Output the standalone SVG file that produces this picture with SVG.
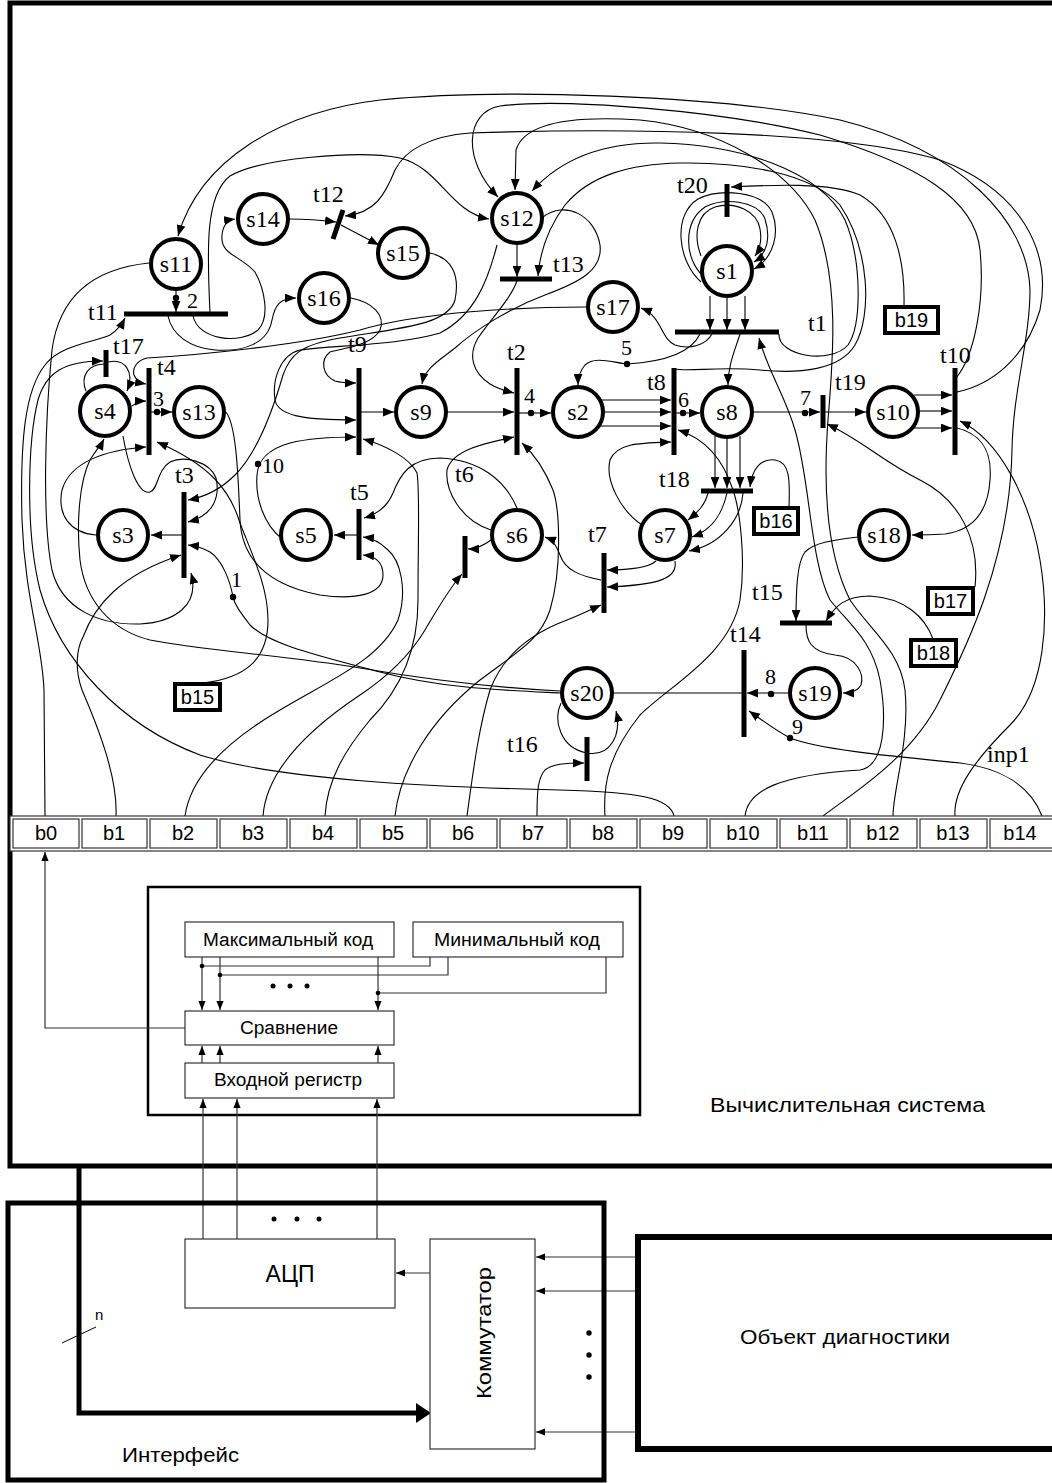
<svg xmlns="http://www.w3.org/2000/svg" width="1052" height="1483" viewBox="0 0 1052 1483">
<style>
.c{fill:none;stroke:#000;stroke-width:1.1}
.pl circle{fill:#fff;stroke:#000;stroke-width:4}
.pl text,.tl{font-family:"Liberation Serif",serif;font-size:24px;fill:#000}
.pl text{text-anchor:middle}
.dg{font-family:"Liberation Serif",serif;font-size:22px}
.tr line{stroke:#000;stroke-width:5}
.bx rect{fill:#fff;stroke:#000;stroke-width:4}
.bx text,.rg text{font-family:"Liberation Sans",Arial,sans-serif;font-size:20px;text-anchor:middle}
.rg rect{fill:#fff;stroke:#333;stroke-width:1.2}
.blk rect{fill:#fff;stroke:#333;stroke-width:1.2}
.sans{font-family:"Liberation Sans",Arial,sans-serif;fill:#000}
.thin{fill:none;stroke:#333;stroke-width:1.2}
.dot{fill:#000}
</style>
<defs>
<marker id="a" viewBox="0 0 10 8" refX="10" refY="4" markerWidth="11" markerHeight="9" orient="auto" markerUnits="userSpaceOnUse"><path d="M0,0 L10,4 L0,8 z"/></marker>
<marker id="s" viewBox="0 0 10 8" refX="10" refY="4" markerWidth="9" markerHeight="8" orient="auto" markerUnits="userSpaceOnUse"><path d="M0,0 L10,4 L0,8 z"/></marker>
</defs>

<g id="frame-computer">
<path d="M1060,3 L10,3 L10,1166 L1060,1166" fill="none" stroke="#000" stroke-width="5"/>
<text class="sans" x="710" y="1112" font-size="21" textLength="275" lengthAdjust="spacingAndGlyphs">Вычислительная система</text>
</g>

<g id="connectors">
<path class="c" d="M176,291 L176,312" marker-end="url(#a)"/>
<path class="c" d="M290,219 C305,219 320,220 336,222" marker-end="url(#a)"/>
<path class="c" d="M341,225 L379,245" marker-end="url(#a)"/>
<path class="c" d="M517,245 L517,277" marker-end="url(#a)"/>
<path class="c" d="M710,296 L710,330" marker-end="url(#a)"/>
<path class="c" d="M727,298 L727,330" marker-end="url(#a)"/>
<path class="c" d="M745,296 L745,330" marker-end="url(#a)"/>
<path class="c" d="M700,334 C690,355 660,362 627,364 C610,362 595,356 585,365 C579,372 578,378 578,385" marker-end="url(#a)"/>
<path class="c" d="M712,334 C706,345 690,350 675,345 C660,338 662,316 641,308" marker-end="url(#a)"/>
<path class="c" d="M740,334 C735,350 728,365 728,385" marker-end="url(#a)"/>
<path class="c" d="M701,282 C678,262 672,215 698,199 C720,188 762,191 772,212 C780,232 774,258 754,269" marker-end="url(#a)"/>
<path class="c" d="M703,276 C684,258 683,222 705,207 C725,197 758,201 765,219 C771,238 767,254 754,262" marker-end="url(#a)"/>
<path class="c" d="M701,256 C693,235 697,213 715,207 C735,201 757,211 760,229 C762,240 760,249 755,256" marker-end="url(#a)"/>
<path class="c" d="M904,305 C905,260 895,215 860,195 C830,182 770,185 731,187" marker-end="url(#a)"/>
<path class="c" d="M519,413 L551,413" marker-end="url(#a)"/>
<path class="c" d="M448,412 L514,412" marker-end="url(#a)"/>
<path class="c" d="M361,412 L394,412" marker-end="url(#a)"/>
<path class="c" d="M601,400 L671,400" marker-end="url(#a)"/>
<path class="c" d="M605,412 L671,412" marker-end="url(#a)"/>
<path class="c" d="M601,426 L671,426" marker-end="url(#a)"/>
<path class="c" d="M676,413 L700,413" marker-end="url(#a)"/>
<path class="c" d="M754,412 L820,412" marker-end="url(#a)"/>
<path class="c" d="M825,412 L866,412" marker-end="url(#a)"/>
<path class="c" d="M914,395 L952,395" marker-end="url(#a)"/>
<path class="c" d="M920,411 L952,411" marker-end="url(#a)"/>
<path class="c" d="M914,428 L952,428" marker-end="url(#a)"/>
<path class="c" d="M151,412 L172,412" marker-end="url(#a)"/>
<path class="c" d="M715,436 L715,488" marker-end="url(#a)"/>
<path class="c" d="M727,439 L727,488" marker-end="url(#a)"/>
<path class="c" d="M740,436 L740,488" marker-end="url(#a)"/>
<path class="c" d="M708,493 C705,505 698,512 688,520" marker-end="url(#a)"/>
<path class="c" d="M727,493 C722,515 712,530 692,537" marker-end="url(#a)"/>
<path class="c" d="M743,493 C741,520 720,545 689,551" marker-end="url(#a)"/>
<path class="c" d="M789,507 C790,480 790,462 775,460 C760,458 752,470 750,487" marker-end="url(#a)"/>
<path class="c" d="M182,535 L151,535" marker-end="url(#a)"/>
<path class="c" d="M357,535 L334,535" marker-end="url(#a)"/>
<path class="c" d="M806,625 C806,640 810,652 835,655 C858,657 864,675 861,685 C858,691 852,693 843,693" marker-end="url(#a)"/>
<path class="c" d="M788,693 L747,693" marker-end="url(#a)"/>
<path class="c" d="M742,693 L614,693"/>
<path class="c" d="M858,537 C835,540 815,542 805,552 C797,562 796,590 796,621" marker-end="url(#a)"/>
<path class="c" d="M933,639 C925,617 905,598 870,596 C845,596 835,606 826,621" marker-end="url(#a)"/>
<path class="c" d="M957,428 C985,435 992,455 990,480 C988,510 975,530 945,534 C930,535 922,535 912,535" marker-end="url(#a)"/>
<path class="c" d="M975,587 C980,540 960,500 920,480 C880,460 862,440 827,424" marker-end="url(#a)"/>
<path class="c" d="M955,816 C953,790 975,760 1010,725 C1045,690 1050,620 1040,560 C1030,500 1000,440 960,421" marker-end="url(#a)"/>
<path class="c" d="M1042,816 C1030,785 1000,768 960,763 C900,757 820,750 790,738 C775,730 762,720 749,711" marker-end="url(#a)"/>
<path class="c" d="M893,816 C893,790 910,740 905,690 C900,650 870,630 850,600 C830,560 822,500 828,420 C833,360 840,280 815,220 C790,170 720,128 640,120 C580,116 525,120 516,150 L515,190" marker-end="url(#a)"/>
<path class="c" d="M823,816 C850,795 910,760 940,700 C965,650 1010,560 1012,450 C1013,390 1030,340 1030,290 C1028,220 960,150 840,120 C720,95 500,88 380,100 C280,112 200,160 178,236" marker-end="url(#a)"/>
<path class="c" d="M745,816 C748,790 780,775 860,770 C885,766 887,720 880,680 C872,640 850,625 830,600 C810,560 810,480 795,430 C785,395 768,372 759,338" marker-end="url(#a)"/>
<path class="c" d="M674,369 C690,372 720,366 760,370 C800,374 840,370 855,345 C872,315 870,250 840,205 C810,172 740,162 680,163 C630,164 590,175 565,205 C548,228 540,250 538,276" marker-end="url(#a)"/>
<path class="c" d="M779,334 C778,356 830,365 848,345 C862,325 862,260 845,220 C820,170 740,145 660,143 C600,142 560,160 532,191" marker-end="url(#a)"/>
<path class="c" d="M956,378 C975,355 985,300 980,250 C975,200 920,165 820,135 C720,110 560,98 500,106 C465,112 462,160 498,197" marker-end="url(#a)"/>
<path class="c" d="M957,392 C990,385 1025,360 1040,310 C1052,250 1020,190 940,160 C840,130 620,128 470,133 C430,136 405,150 395,170 C385,195 375,213 345,216" marker-end="url(#a)"/>
<path class="c" d="M210,313 C207,250 205,195 230,176 C260,158 360,150 400,158 C440,168 450,212 489,219" marker-end="url(#a)"/>
<path class="c" d="M193,316 C198,340 240,345 258,330 C270,318 265,290 255,272 C240,255 220,255 222,235 C223,225 228,220 235,219" marker-end="url(#a)"/>
<path class="c" d="M168,316 C172,335 190,348 215,350 C245,352 268,343 272,320 C275,305 280,298 296,298" marker-end="url(#a)"/>
<path class="c" d="M45,816 L44,690 C42,640 25,600 22,520 C20,440 25,390 45,365 C60,345 95,342 110,335 C118,330 122,324 125,318" marker-end="url(#a)"/>
<path class="c" d="M149,263 C100,268 60,290 52,350 C45,420 42,520 52,570 C62,610 100,625 140,624 C175,622 200,605 191,573" marker-end="url(#a)"/>
<path class="c" d="M674,816 C670,798 640,792 560,790 C430,787 280,780 200,755 C120,725 60,660 40,590 C25,530 28,440 38,400 C46,372 65,361 103,361" marker-end="url(#a)"/>
<path class="c" d="M86,391 C80,376 88,364 105,364"/>
<path class="c" d="M108,362 C125,358 135,372 127,391" marker-end="url(#a)"/>
<path class="c" d="M132,406 C137,402 140,401 146,401" marker-end="url(#a)"/>
<path class="c" d="M586,307 C520,307 420,312 360,330 C300,345 200,355 147,358 C138,360 132,367 134,375 C136,380 140,383 146,384" marker-end="url(#a)"/>
<path class="c" d="M96,535 C70,533 57,515 62,490 C70,462 105,450 146,447" marker-end="url(#a)"/>
<path class="c" d="M203,683 C245,678 268,660 268,620 C268,585 250,550 240,523 C230,490 210,465 157,442" marker-end="url(#a)"/>
<path class="c" d="M123,436 C128,465 138,495 150,492 C158,490 157,470 170,462 C185,455 210,462 216,478 C220,495 215,515 188,522" marker-end="url(#a)"/>
<path class="c" d="M430,253 C452,258 460,275 455,300 C448,325 400,328 340,338 C300,345 290,355 283,375 C270,420 255,455 235,475 C220,490 205,497 188,500" marker-end="url(#a)"/>
<path class="c" d="M497,245 C488,280 475,315 440,333 C400,345 340,345 300,350 C280,355 272,380 275,400 C278,415 300,420 356,420" marker-end="url(#a)"/>
<path class="c" d="M351,298 C372,302 386,315 380,330 C372,345 345,348 330,352 C320,360 322,375 335,381 C342,383 350,383 356,383" marker-end="url(#a)"/>
<path class="c" d="M281,538 C265,525 255,500 257,475 C258,462 265,450 290,443 C310,438 330,437 356,437" marker-end="url(#a)"/>
<path class="c" d="M325,816 C327,780 345,750 370,720 C400,690 418,650 418,600 C418,540 420,490 417,473 C410,458 385,445 363,439" marker-end="url(#a)"/>
<path class="c" d="M226,412 C236,425 238,470 240,520 C242,560 268,585 320,595 C355,600 383,595 383,575 C383,562 375,556 363,555" marker-end="url(#a)"/>
<path class="c" d="M185,816 C190,780 220,745 280,710 C330,680 380,660 398,620 C408,590 400,560 388,550 C380,542 372,538 363,537" marker-end="url(#a)"/>
<path class="c" d="M517,508 C505,480 480,460 440,458 C410,458 400,475 393,493 C388,505 378,514 364,518" marker-end="url(#a)"/>
<path class="c" d="M491,540 C483,546 477,549 468,549" marker-end="url(#a)"/>
<path class="c" d="M491,530 C460,520 445,490 447,470 C452,450 485,443 514,437" marker-end="url(#a)"/>
<path class="c" d="M263,816 C266,775 300,735 360,695 C390,675 410,655 425,630 C437,610 448,590 462,574" marker-end="url(#a)"/>
<path class="c" d="M395,816 C400,770 430,720 480,680 C520,650 540,640 550,610 C562,570 560,510 553,490 C545,470 535,455 522,443" marker-end="url(#a)"/>
<path class="c" d="M467,816 C472,780 478,730 490,690 C505,650 540,630 567,620 C580,615 590,610 601,605" marker-end="url(#a)"/>
<path class="c" d="M656,561 C648,568 630,570 607,570" marker-end="url(#a)"/>
<path class="c" d="M675,561 C678,578 660,585 607,587" marker-end="url(#a)"/>
<path class="c" d="M601,580 C580,576 565,570 560,555 C556,545 553,540 545,537" marker-end="url(#a)"/>
<path class="c" d="M642,525 C620,510 605,480 610,460 C617,443 640,443 671,442" marker-end="url(#a)"/>
<path class="c" d="M605,816 C603,785 608,755 640,715 C670,685 730,655 740,600 C746,560 740,510 733,490 C725,465 710,440 678,430" marker-end="url(#a)"/>
<path class="c" d="M537,816 C537,790 538,778 545,770 C552,764 565,763 584,763" marker-end="url(#a)"/>
<path class="c" d="M561,703 C553,720 560,748 587,753 C610,757 622,735 616,711" marker-end="url(#a)"/>
<path class="c" d="M560,693 C500,690 440,688 380,672 C320,656 270,645 250,625 C240,612 235,605 233,597 C230,580 222,560 210,552 C203,548 196,546 188,545" marker-end="url(#a)"/>
<path class="c" d="M560,691 C500,688 430,680 360,668 C290,656 200,650 150,640 C110,630 85,600 80,560 C76,520 80,480 90,460 C96,450 101,445 104,439" marker-end="url(#a)"/>
<path class="c" d="M116,816 C118,775 95,720 82,690 C75,670 76,650 83,637 C95,605 120,575 181,555" marker-end="url(#a)"/>
<path class="c" d="M517,281 C510,300 490,320 478,338 C468,355 472,372 490,384 C498,389 506,391 514,393" marker-end="url(#a)"/>
<path class="c" d="M543,217 C565,200 595,215 600,245 C603,270 580,282 545,295 C510,308 475,330 455,348 C440,360 425,368 422,384" marker-end="url(#a)"/>
<circle class="dot" cx="176" cy="298" r="3.2"/>
<circle class="dot" cx="157" cy="412" r="3.2"/>
<circle class="dot" cx="531" cy="413" r="3.2"/>
<circle class="dot" cx="627" cy="364" r="3.2"/>
<circle class="dot" cx="683" cy="413" r="3.2"/>
<circle class="dot" cx="805" cy="413" r="3.2"/>
<circle class="dot" cx="258" cy="464" r="3.2"/>
<circle class="dot" cx="233" cy="597" r="3.2"/>
<circle class="dot" cx="771" cy="694" r="3.2"/>
<circle class="dot" cx="790" cy="738" r="3.2"/>
</g>

<g id="s11" class="pl"><circle cx="176" cy="264" r="25"/><text x="176" y="272">s11</text></g>
<g id="s14" class="pl"><circle cx="263" cy="219" r="25"/><text x="263" y="227">s14</text></g>
<g id="s16" class="pl"><circle cx="324" cy="298" r="25"/><text x="324" y="306">s16</text></g>
<g id="s12" class="pl"><circle cx="517" cy="218" r="25"/><text x="517" y="226">s12</text></g>
<g id="s15" class="pl"><circle cx="403" cy="253" r="25"/><text x="403" y="261">s15</text></g>
<g id="s17" class="pl"><circle cx="613" cy="307" r="25"/><text x="613" y="315">s17</text></g>
<g id="s1" class="pl"><circle cx="727" cy="271" r="25"/><text x="727" y="279">s1</text></g>
<g id="s4" class="pl"><circle cx="105" cy="411" r="25"/><text x="105" y="419">s4</text></g>
<g id="s13" class="pl"><circle cx="199" cy="412" r="25"/><text x="199" y="420">s13</text></g>
<g id="s3" class="pl"><circle cx="123" cy="535" r="25"/><text x="123" y="543">s3</text></g>
<g id="s5" class="pl"><circle cx="306" cy="535" r="25"/><text x="306" y="543">s5</text></g>
<g id="s9" class="pl"><circle cx="421" cy="412" r="25"/><text x="421" y="420">s9</text></g>
<g id="s2" class="pl"><circle cx="578" cy="412" r="25"/><text x="578" y="420">s2</text></g>
<g id="s6" class="pl"><circle cx="517" cy="535" r="25"/><text x="517" y="543">s6</text></g>
<g id="s7" class="pl"><circle cx="665" cy="535" r="25"/><text x="665" y="543">s7</text></g>
<g id="s8" class="pl"><circle cx="727" cy="412" r="25"/><text x="727" y="420">s8</text></g>
<g id="s10" class="pl"><circle cx="893" cy="412" r="25"/><text x="893" y="420">s10</text></g>
<g id="s18" class="pl"><circle cx="884" cy="535" r="25"/><text x="884" y="543">s18</text></g>
<g id="s19" class="pl"><circle cx="815" cy="693" r="25"/><text x="815" y="701">s19</text></g>
<g id="s20" class="pl"><circle cx="587" cy="693" r="25"/><text x="587" y="701">s20</text></g>

<g id="t20" class="tr"><line x1="727" y1="184" x2="727" y2="217"/><text class="tl" x="677" y="193">t20</text></g>
<g id="t1" class="tr"><line x1="675" y1="332" x2="779" y2="332"/><text class="tl" x="808" y="331">t1</text></g>
<g id="t12" class="tr"><line x1="343" y1="210" x2="333" y2="239"/><text class="tl" x="313" y="202">t12</text></g>
<g id="t11" class="tr"><line x1="124" y1="314" x2="228" y2="314"/><text class="tl" x="88" y="320">t11</text></g>
<g id="t13" class="tr"><line x1="500" y1="279" x2="552" y2="279"/><text class="tl" x="553" y="272">t13</text></g>
<g id="t17" class="tr"><line x1="106" y1="350" x2="106" y2="377"/><text class="tl" x="113" y="354">t17</text></g>
<g id="t4" class="tr"><line x1="149" y1="368" x2="149" y2="455"/><text class="tl" x="157" y="375">t4</text></g>
<g id="t3" class="tr"><line x1="184" y1="492" x2="184" y2="578"/><text class="tl" x="175" y="483">t3</text></g>
<g id="t9" class="tr"><line x1="359" y1="368" x2="359" y2="455"/><text class="tl" x="348" y="352">t9</text></g>
<g id="t2" class="tr"><line x1="517" y1="368" x2="517" y2="455"/><text class="tl" x="507" y="360">t2</text></g>
<g id="t8" class="tr"><line x1="674" y1="368" x2="674" y2="455"/><text class="tl" x="647" y="390">t8</text></g>
<g id="t5" class="tr"><line x1="359" y1="509" x2="359" y2="560"/><text class="tl" x="350" y="500">t5</text></g>
<g id="t6" class="tr"><line x1="465" y1="536" x2="465" y2="578"/><text class="tl" x="455" y="482">t6</text></g>
<g id="t7" class="tr"><line x1="604" y1="553" x2="604" y2="613"/><text class="tl" x="588" y="542">t7</text></g>
<g id="t18" class="tr"><line x1="701" y1="491" x2="753" y2="491"/><text class="tl" x="659" y="487">t18</text></g>
<g id="t19" class="tr"><line x1="823" y1="395" x2="823" y2="428"/><text class="tl" x="835" y="390">t19</text></g>
<g id="t10" class="tr"><line x1="955" y1="368" x2="955" y2="455"/><text class="tl" x="940" y="363">t10</text></g>
<g id="t15" class="tr"><line x1="780" y1="623" x2="832" y2="623"/><text class="tl" x="752" y="600">t15</text></g>
<g id="t14" class="tr"><line x1="744" y1="650" x2="744" y2="737"/><text class="tl" x="730" y="642">t14</text></g>
<g id="t16" class="tr"><line x1="587" y1="737" x2="587" y2="781"/><text class="tl" x="507" y="752">t16</text></g>

<g id="arc-labels">
<text class="dg" x="187" y="308">2</text>
<text class="dg" x="153" y="406">3</text>
<text class="dg" x="524" y="403">4</text>
<text class="dg" x="621" y="355">5</text>
<text class="dg" x="678" y="407">6</text>
<text class="dg" x="800" y="405">7</text>
<text class="dg" x="765" y="684">8</text>
<text class="dg" x="792" y="734">9</text>
<text class="dg" x="262" y="473">10</text>
<text class="dg" x="231" y="587">1</text>
<text class="tl" x="987" y="762">inp1</text>
</g>

<g id="b15" class="bx"><rect x="175" y="684" width="45" height="26"/><text x="197.5" y="704">b15</text></g>
<g id="b16" class="bx"><rect x="754" y="508" width="44" height="26"/><text x="776" y="528">b16</text></g>
<g id="b17" class="bx"><rect x="928" y="588" width="45" height="26"/><text x="950.5" y="608">b17</text></g>
<g id="b18" class="bx"><rect x="911" y="640" width="45" height="26"/><text x="933.5" y="660">b18</text></g>
<g id="b19" class="bx"><rect x="885" y="307" width="53" height="26"/><text x="911.5" y="327">b19</text></g>

<g id="register" class="rg">
<rect x="10" y="816" width="1050" height="35" stroke="#444" stroke-width="1.5"/>
<rect x="13" y="819" width="66" height="29"/><text x="46" y="840">b0</text>
<rect x="82" y="819" width="65" height="29"/><text x="114" y="840">b1</text>
<rect x="150" y="819" width="67" height="29"/><text x="183" y="840">b2</text>
<rect x="220" y="819" width="67" height="29"/><text x="253" y="840">b3</text>
<rect x="290" y="819" width="67" height="29"/><text x="323" y="840">b4</text>
<rect x="360" y="819" width="67" height="29"/><text x="393" y="840">b5</text>
<rect x="430" y="819" width="67" height="29"/><text x="463" y="840">b6</text>
<rect x="500" y="819" width="67" height="29"/><text x="533" y="840">b7</text>
<rect x="570" y="819" width="67" height="29"/><text x="603" y="840">b8</text>
<rect x="640" y="819" width="67" height="29"/><text x="673" y="840">b9</text>
<rect x="710" y="819" width="67" height="29"/><text x="743" y="840">b10</text>
<rect x="780" y="819" width="67" height="29"/><text x="813" y="840">b11</text>
<rect x="850" y="819" width="67" height="29"/><text x="883" y="840">b12</text>
<rect x="920" y="819" width="67" height="29"/><text x="953" y="840">b13</text>
<rect x="990" y="819" width="67" height="29"/><text x="1020" y="840">b14</text>
</g>

<g id="compare-unit">
<rect x="148" y="887" width="492" height="228" fill="none" stroke="#000" stroke-width="2.5"/>
</g>
<g id="max-code" class="blk"><rect x="185" y="922" width="209" height="35"/><text class="sans" x="203" y="946" font-size="18" textLength="170" lengthAdjust="spacingAndGlyphs">Максимальный код</text></g>
<g id="min-code" class="blk"><rect x="413" y="922" width="210" height="35"/><text class="sans" x="434" y="946" font-size="18" textLength="166" lengthAdjust="spacingAndGlyphs">Минимальный код</text></g>
<g id="compare" class="blk"><rect x="185" y="1011" width="209" height="34"/><text class="sans" x="240" y="1034" font-size="18" textLength="98" lengthAdjust="spacingAndGlyphs">Сравнение</text></g>
<g id="input-reg" class="blk"><rect x="185" y="1063" width="209" height="35"/><text class="sans" x="214" y="1086" font-size="18" textLength="148" lengthAdjust="spacingAndGlyphs">Входной регистр</text></g>
<g id="block-connectors">
<path class="thin" d="M202,957 L202,1010" marker-end="url(#s)"/>
<path class="thin" d="M220,957 L220,1010" marker-end="url(#s)"/>
<path class="thin" d="M378,957 L378,1010" marker-end="url(#s)"/>
<path class="thin" d="M202,966 L430,966 L430,957"/>
<path class="thin" d="M220,975 L448,975 L448,957"/>
<path class="thin" d="M378,993 L606,993 L606,957"/>
<circle class="dot" cx="202" cy="966" r="2.3"/>
<circle class="dot" cx="220" cy="975" r="2.3"/>
<circle class="dot" cx="378" cy="993" r="2.3"/>
<circle class="dot" cx="273" cy="986" r="2.5"/>
<circle class="dot" cx="290" cy="986" r="2.5"/>
<circle class="dot" cx="307" cy="986" r="2.5"/>
<path class="thin" d="M202,1063 L202,1046" marker-end="url(#s)"/>
<path class="thin" d="M220,1063 L220,1046" marker-end="url(#s)"/>
<path class="thin" d="M378,1063 L378,1046" marker-end="url(#s)"/>
<path class="thin" d="M203,1239 L203,1099" marker-end="url(#s)"/>
<path class="thin" d="M237,1239 L237,1099" marker-end="url(#s)"/>
<path class="thin" d="M377,1239 L377,1099" marker-end="url(#s)"/>
<circle class="dot" cx="274" cy="1219" r="2.5"/>
<circle class="dot" cx="297" cy="1219" r="2.5"/>
<circle class="dot" cx="319" cy="1219" r="2.5"/>
<path class="thin" d="M185,1028 L45,1028 L45,852" marker-end="url(#s)"/>
<path class="thin" d="M638,1257 L536,1257" marker-end="url(#s)"/>
<path class="thin" d="M638,1291 L536,1291" marker-end="url(#s)"/>
<path class="thin" d="M638,1432 L536,1432" marker-end="url(#s)"/>
<circle class="dot" cx="589" cy="1333" r="2.7"/>
<circle class="dot" cx="589" cy="1355" r="2.7"/>
<circle class="dot" cx="589" cy="1377" r="2.7"/>
<path class="thin" d="M430,1273 L396,1273" marker-end="url(#s)"/>
<path d="M79,1167 L79,1413 L418,1413" fill="none" stroke="#000" stroke-width="5"/>
<polygon points="416,1403 431,1413 416,1423" fill="#000"/>
<line x1="62" y1="1343" x2="96" y2="1327" stroke="#000" stroke-width="1"/>
<text class="sans" x="95" y="1320" font-size="15">n</text>
</g>

<g id="interface">
<rect x="8" y="1203" width="596" height="277" fill="none" stroke="#000" stroke-width="5"/>
<text class="sans" x="122" y="1462" font-size="21" textLength="117" lengthAdjust="spacingAndGlyphs">Интерфейс</text>
</g>
<g id="adc" class="blk"><rect x="185" y="1239" width="210" height="69"/><text class="sans" x="290" y="1282" font-size="23" text-anchor="middle">АЦП</text></g>
<g id="commutator" class="blk"><rect x="430" y="1239" width="105" height="210"/><text class="sans" transform="translate(491,1333) rotate(-90)" x="0" y="0" font-size="21" text-anchor="middle" textLength="132" lengthAdjust="spacingAndGlyphs">Коммутатор</text></g>
<g id="object"><rect x="638" y="1237" width="430" height="212" fill="#fff" stroke="#000" stroke-width="6"/><text class="sans" x="740" y="1344" font-size="21" textLength="210" lengthAdjust="spacingAndGlyphs">Объект диагностики</text></g>
</svg>
